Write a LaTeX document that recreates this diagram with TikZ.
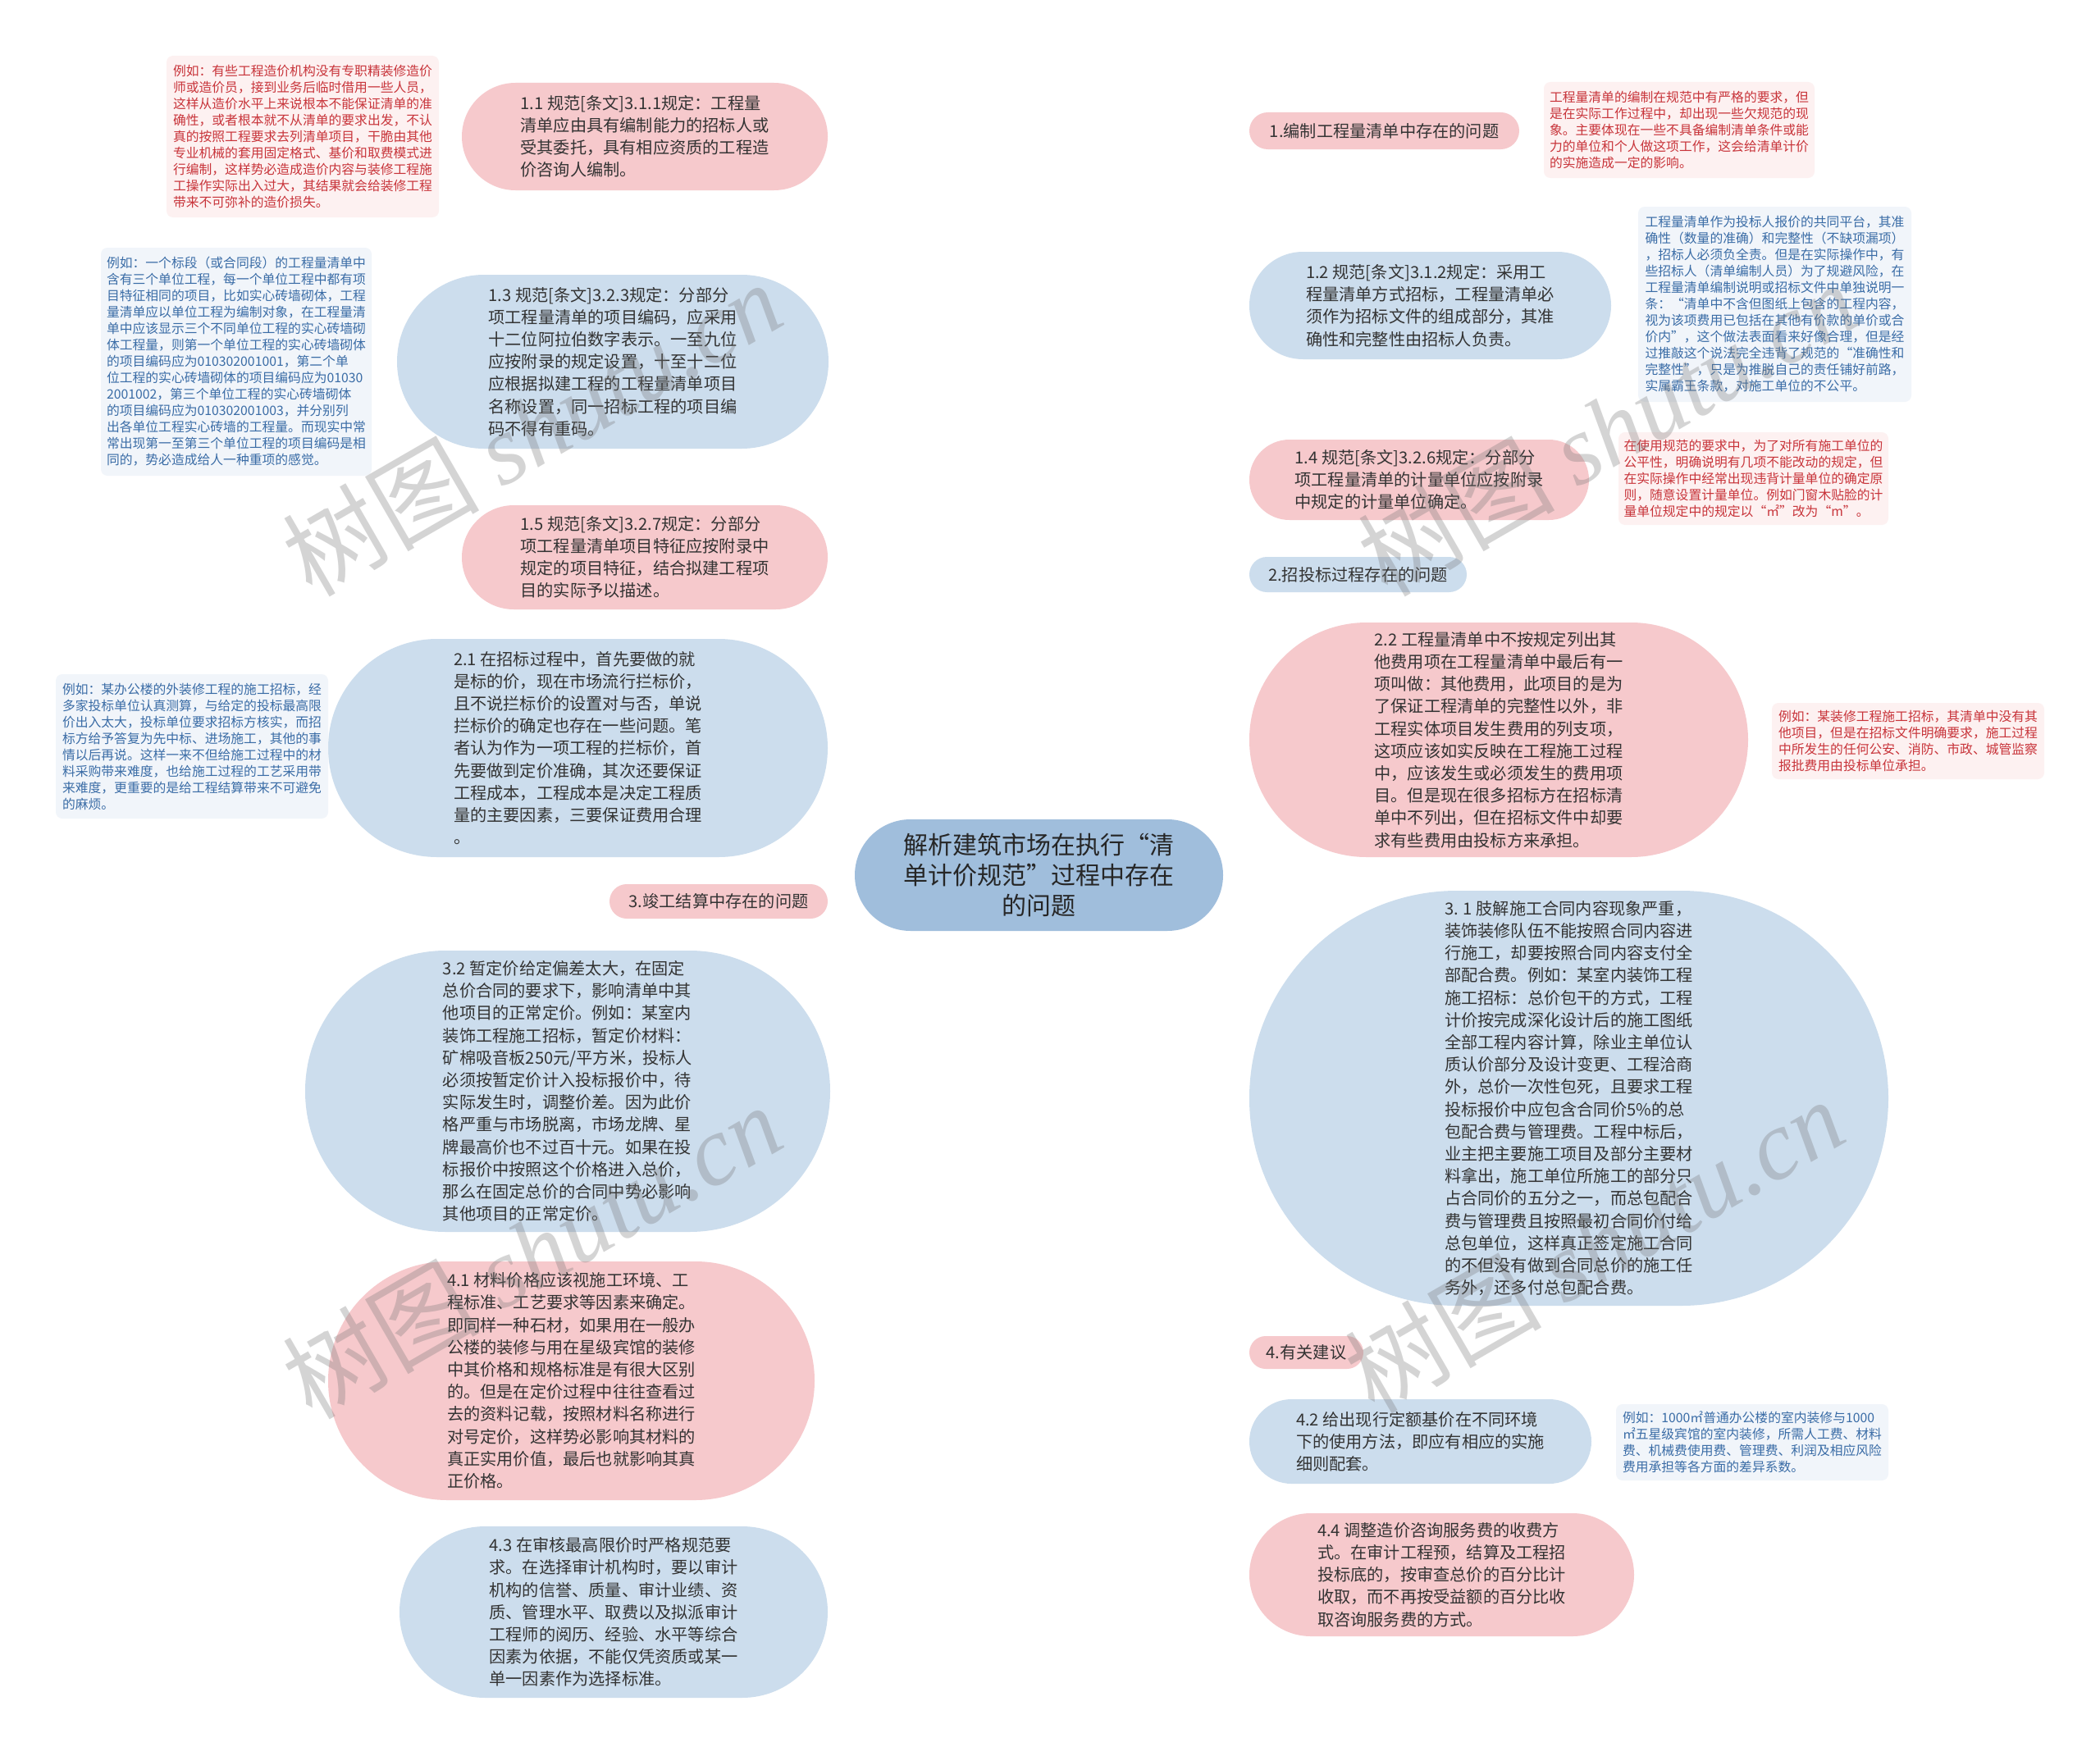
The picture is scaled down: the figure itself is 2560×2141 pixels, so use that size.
\documentclass[tikz,border=0pt]{standalone}
\usepackage{fontspec}
\setmainfont{Noto Sans CJK SC}
\newfontfamily\wmfont{Liberation Serif}
\usetikzlibrary{calc}
\definecolor{pinkfill}{HTML}{F6C9CC}
\definecolor{bluefill}{HTML}{CCDDED}
\definecolor{rootfill}{HTML}{A0BEDC}
\definecolor{pinkline}{HTML}{F0B7BD}
\definecolor{blueline}{HTML}{B8CDE2}
\definecolor{notepinkbg}{HTML}{FDF1F1}
\definecolor{notebluebg}{HTML}{F1F5FA}
\definecolor{noteredtxt}{HTML}{C8343A}
\definecolor{notebluetxt}{HTML}{3A6CA6}
\definecolor{txt}{HTML}{333333}
\pgfdeclarelayer{bg}
\pgfsetlayers{bg,main}
\newcommand\mainsz{\fontsize{10.1}{13.6}\selectfont}
\newcommand\notesz{\fontsize{7.9}{10}\selectfont}
\newcommand\rootsz{\fontsize{15}{18.3}\selectfont}
\newcommand\rootlink[2]{\draw[#1] let \p1=(root.center), \p2=(#2) in (\p1) .. controls ({\x1+0.35*(\x2-\x1)},\y2) and ({\x1+0.6*(\x2-\x1)},\y2) .. (\p2);}
\tikzset{
  topic/.style 2 args={inner sep=0pt, align=left, text=txt, font=\mainsz, minimum width=#1pt, minimum height=#2pt, rounded corners=#2*0.5pt},
  pinktopic/.style 2 args={topic={#1}{#2}, fill=pinkfill},
  bluetopic/.style 2 args={topic={#1}{#2}, fill=bluefill},
  note/.style 2 args={inner sep=0pt, align=left, font=\notesz, minimum width=#1pt, minimum height=#2pt, rounded corners=4pt},
  pinknote/.style 2 args={note={#1}{#2}, fill=notepinkbg, text=noteredtxt},
  bluenote/.style 2 args={note={#1}{#2}, fill=notebluebg, text=notebluetxt},
  pl/.style={draw=pinkline, line width=1pt},
  bl/.style={draw=blueline, line width=1pt},
  wm/.style={font=\fontsize{60}{60}\selectfont, text=black!55, opacity=0.3, rotate=30}
}
\begin{document}
\begin{tikzpicture}[x=0.5pt, y=-0.5pt]
\useasboundingbox (0,0) rectangle (2560,2141);
\fill[white] (0,0) rectangle (2560,2141);

% root
\node[inner sep=0pt, align=center, fill=rootfill, text=black!85, font=\rootsz, minimum width=224.5pt, minimum height=68pt, rounded corners=34pt] (root) at (1266.5,1067) {解析建筑市场在执行“清\\单计价规范”过程中存在\\的问题};

% left topics
\node[pinktopic={223}{65.5}] (n11) at (786,166.5) {1.1 规范[条文]3.1.1规定：工程量\\清单应由具有编制能力的招标人或\\受其委托，具有相应资质的工程造\\价咨询人编制。};
\node[bluetopic={263}{106}] (n13) at (747,441) {1.3 规范[条文]3.2.3规定：分部分\\项工程量清单的项目编码，应采用\\十二位阿拉伯数字表示。一至九位\\应按附录的规定设置，十至十二位\\应根据拟建工程的工程量清单项目\\名称设置，同一招标工程的项目编\\码不得有重码。};
\node[pinktopic={223}{63.5}] (n15) at (786,679.5) {1.5 规范[条文]3.2.7规定：分部分\\项工程量清单项目特征应按附录中\\规定的项目特征，结合拟建工程项\\目的实际予以描述。};
\node[bluetopic={304.5}{133}] (n21) at (704.5,912) {2.1 在招标过程中，首先要做的就\\是标的价，现在市场流行拦标价，\\且不说拦标价的设置对与否，单说\\拦标价的确定也存在一些问题。笔\\者认为作为一项工程的拦标价，首\\先要做到定价准确，其次还要保证\\工程成本，工程成本是决定工程质\\量的主要因素，三要保证费用合理\\。};
\node[pinktopic={133}{21}] (n3) at (876,1099) {3.竣工结算中存在的问题};
\node[bluetopic={320}{171.5}] (n32) at (692,1330.5) {3.2 暂定价给定偏差太大，在固定\\总价合同的要求下，影响清单中其\\他项目的正常定价。例如：某室内\\装饰工程施工招标，暂定价材料：\\矿棉吸音板250元/平方米，投标人\\必须按暂定价计入投标报价中，待\\实际发生时，调整价差。因为此价\\格严重与市场脱离，市场龙牌、星\\牌最高价也不过百十元。如果在投\\标报价中按照这个价格进入总价，\\那么在固定总价的合同中势必影响\\其他项目的正常定价。};
\node[pinktopic={296.5}{145.5}] (n41) at (696.5,1683.5) {4.1 材料价格应该视施工环境、工\\程标准、工艺要求等因素来确定。\\即同样一种石材，如果用在一般办\\公楼的装修与用在星级宾馆的装修\\中其价格和规格标准是有很大区别\\的。但是在定价过程中往往查看过\\去的资料记载，按照材料名称进行\\对号定价，这样势必影响其材料的\\真正实用价值，最后也就影响其真\\正价格。};
\node[bluetopic={261}{104.5}] (n43) at (748,1965.5) {4.3 在审核最高限价时严格规范要\\求。在选择审计机构时，要以审计\\机构的信誉、质量、审计业绩、资\\质、管理水平、取费以及拟派审计\\工程师的阅历、经验、水平等综合\\因素为依据，不能仅凭资质或某一\\单一因素作为选择标准。};

% right topics
\node[pinktopic={164.5}{22.5}] (n1) at (1687.5,159.5) {1.编制工程量清单中存在的问题};
\node[bluetopic={220.5}{65.5}] (n12) at (1743.5,372.5) {1.2 规范[条文]3.1.2规定：采用工\\程量清单方式招标，工程量清单必\\须作为招标文件的组成部分，其准\\确性和完整性由招标人负责。};
\node[pinktopic={207}{49}] (n14) at (1730,585) {1.4 规范[条文]3.2.6规定：分部分\\项工程量清单的计量单位应按附录\\中规定的计量单位确定。};
\node[bluetopic={132.5}{21.5}] (n2) at (1655.5,700.5) {2.招投标过程存在的问题};
\node[pinktopic={304}{143}] (n22) at (1827,902) {2.2 工程量清单中不按规定列出其\\他费用项在工程量清单中最后有一\\项叫做：其他费用，此项目的是为\\了保证工程清单的完整性以外，非\\工程实体项目发生费用的列支项，\\这项应该如实反映在工程施工过程\\中，应该发生或必须发生的费用项\\目。但是现在很多招标方在招标清\\单中不列出，但在招标文件中却要\\求有些费用由投标方来承担。};
\node[bluetopic={389.5}{253}] (n31) at (1912.5,1339) {3. 1 肢解施工合同内容现象严重，\\装饰装修队伍不能按照合同内容进\\行施工，却要按照合同内容支付全\\部配合费。例如：某室内装饰工程\\施工招标：总价包干的方式，工程\\计价按完成深化设计后的施工图纸\\全部工程内容计算，除业主单位认\\质认价部分及设计变更、工程洽商\\外，总价一次性包死，且要求工程\\投标报价中应包含合同价5\%的总\\包配合费与管理费。工程中标后，\\业主把主要施工项目及部分主要材\\料拿出，施工单位所施工的部分只\\占合同价的五分之一，而总包配合\\费与管理费且按照最初合同价付给\\总包单位，这样真正签定施工合同\\的不但没有做到合同总价的施工任\\务外，还多付总包配合费。};
\node[pinktopic={69.5}{20}] (n4) at (1592.5,1649) {4.有关建议};
\node[bluetopic={208.5}{51.5}] (n42) at (1731.5,1757.5) {4.2 给出现行定额基价在不同环境\\下的使用方法，即应有相应的实施\\细则配套。};
\node[pinktopic={234.5}{75}] (n44) at (1757.5,1920) {4.4 调整造价咨询服务费的收费方\\式。在审计工程预，结算及工程招\\投标底的，按审查总价的百分比计\\收取，而不再按受益额的百分比收\\取咨询服务费的方式。};

% notes
\node[pinknote={166}{98.5}] (noteA) at (369,166.5) {例如：有些工程造价机构没有专职精装修造价\\师或造价员，接到业务后临时借用一些人员，\\这样从造价水平上来说根本不能保证清单的准\\确性，或者根本就不从清单的要求出发，不认\\真的按照工程要求去列清单项目，干脆由其他\\专业机械的套用固定格式、基价和取费模式进\\行编制，这样势必造成造价内容与装修工程施\\工操作实际出入过大，其结果就会给装修工程\\带来不可弥补的造价损失。};
\node[bluenote={165}{139}] (noteB) at (288,441) {例如：一个标段（或合同段）的工程量清单中\\含有三个单位工程，每一个单位工程中都有项\\目特征相同的项目，比如实心砖墙砌体，工程\\量清单应以单位工程为编制对象，在工程量清\\单中应该显示三个不同单位工程的实心砖墙砌\\体工程量，则第一个单位工程的实心砖墙砌体\\的项目编码应为010302001001，第二个单\\位工程的实心砖墙砌体的项目编码应为01030\\2001002，第三个单位工程的实心砖墙砌体\\的项目编码应为010302001003，并分别列\\出各单位工程实心砖墙的工程量。而现实中常\\常出现第一至第三个单位工程的项目编码是相\\同的，势必造成给人一种重项的感觉。};
\node[bluenote={166}{88}] (noteC) at (234,910) {例如：某办公楼的外装修工程的施工招标，经\\多家投标单位认真测算，与给定的投标最高限\\价出入太大，投标单位要求招标方核实，而招\\标方给予答复为先中标、进场施工，其他的事\\情以后再说。这样一来不但给施工过程中的材\\料采购带来难度，也给施工过程的工艺采用带\\来难度，更重要的是给工程结算带来不可避免\\的麻烦。};
\node[pinknote={165}{58.5}] (noteD) at (2047,158.5) {工程量清单的编制在规范中有严格的要求，但\\是在实际工作过程中，却出现一些欠规范的现\\象。主要体现在一些不具备编制清单条件或能\\力的单位和个人做这项工作，这会给清单计价\\的实施造成一定的影响。};
\node[bluenote={166.5}{119}] (noteE) at (2163.5,371) {工程量清单作为投标人报价的共同平台，其准\\确性（数量的准确）和完整性（不缺项漏项）\\，招标人必须负全责。但是在实际操作中，有\\些招标人（清单编制人员）为了规避风险，在\\工程量清单编制说明或招标文件中单独说明一\\条：“清单中不含但图纸上包含的工程内容，\\视为该项费用已包括在其他有价款的单价或合\\价内”，这个做法表面看来好像合理，但是经\\过推敲这个说法完全违背了规范的“准确性和\\完整性”，只是为推脱自己的责任铺好前路，\\实属霸王条款，对施工单位的不公平。};
\node[pinknote={164.5}{56.5}] (noteF) at (2137.5,583.5) {在使用规范的要求中，为了对所有施工单位的\\公平性，明确说明有几项不能改动的规定，但\\在实际操作中经常出现违背计量单位的确定原\\则，随意设置计量单位。例如门窗木贴脸的计\\量单位规定中的规定以“㎡”改为“m”。};
\node[pinknote={166}{46.5}] (noteG) at (2326,903.5) {例如：某装修工程施工招标，其清单中没有其\\他项目，但是在招标文件明确要求，施工过程\\中所发生的任何公安、消防、市政、城管监察\\报批费用由投标单位承担。};
\node[bluenote={166}{46.5}] (noteH) at (2136,1758.5) {例如：1000㎡普通办公楼的室内装修与1000\\㎡五星级宾馆的室内装修，所需人工费、材料\\费、机械费使用费、管理费、利润及相应风险\\费用承担等各方面的差异系数。};

% connectors
\begin{pgfonlayer}{bg}
\rootlink{pl}{n11.east}
\rootlink{bl}{n13.east}
\rootlink{pl}{n15.east}
\rootlink{bl}{n21.east}
\rootlink{pl}{n3.east}
\rootlink{bl}{n32.east}
\rootlink{pl}{n41.east}
\rootlink{bl}{n43.east}
\rootlink{pl}{n1.west}
\rootlink{bl}{n12.west}
\rootlink{pl}{n14.west}
\rootlink{bl}{n2.west}
\rootlink{pl}{n22.west}
\rootlink{bl}{n31.west}
\rootlink{pl}{n4.west}
\rootlink{bl}{n42.west}
\rootlink{pl}{n44.west}
\draw[pl] (noteA.east) -- (n11.west);
\draw[bl] (noteB.east) -- (n13.west);
\draw[bl] (noteC.east) -- (n21.west);
\draw[pl] (n1.east) -- (noteD.west);
\draw[bl] (n12.east) -- (noteE.west);
\draw[pl] (n14.east) -- (noteF.west);
\draw[pl] (n22.east) -- (noteG.west);
\draw[bl] (n42.east) -- (noteH.west);
\end{pgfonlayer}

% watermarks
\node[wm] (wm1) at (648,522) {树图 {\wmfont\itshape shutu.cn}};
\node[wm] (wm2) at (648,1525) {树图 {\wmfont\itshape shutu.cn}};
\node[wm] (wm3) at (1959,522) {树图 {\wmfont\itshape shutu.cn}};
\node[wm] (wm4) at (1943,1518) {树图 {\wmfont\itshape shutu.cn}};
\end{tikzpicture}
\end{document}
